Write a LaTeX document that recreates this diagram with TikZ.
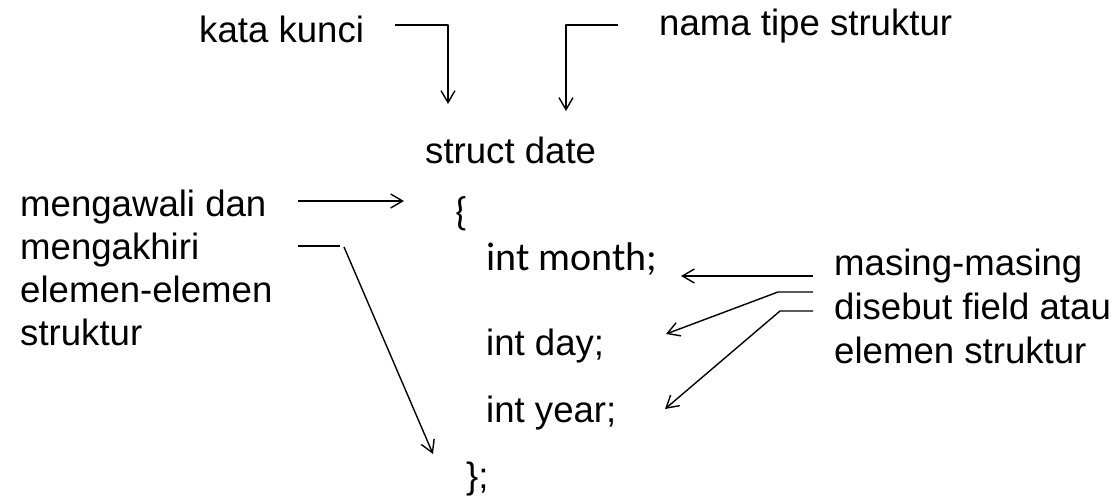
\documentclass[tikz,border=0pt]{standalone}
\usepackage{fontspec}
\setmainfont{Liberation Sans}
\newfontfamily\calfont{Carlito}
\usetikzlibrary{arrows.meta}
\begin{document}
\begin{tikzpicture}[x=1pt,y=-1pt,
  lbl/.style={anchor=base west,inner sep=0pt,font=\fontsize{36.6}{43}\selectfont},
  cal/.style={anchor=base west,inner sep=0pt,font=\calfont\fontsize{40}{48}\selectfont},
  conn/.style={line width=1.4pt,line join=round},
  tip/.style={conn,-{Straight Barb[length=12pt,width=14pt,line width=1.4pt]}}]
\useasboundingbox (0,0) rectangle (1118,496);

% labels
\node[lbl] (kk) at (199,42) {kata kunci};
\node[lbl] (ntype) at (659,35) {nama tipe struktur};
\node[lbl] (sd) at (425,163) {struct date};
\node[cal] (ob) at (455,225) {\{};
\node[cal] (im) at (486,270) {int month;};
\node[lbl] (id) at (486,355) {int day;};
\node[lbl] (iy) at (486,422) {int year;};
\node[lbl] (cb) at (466,488) {\};};

\node[lbl] (l1) at (20,216) {mengawali dan};
\node[lbl] (l2) at (20,259) {mengakhiri};
\node[lbl] (l3) at (20,302) {elemen-elemen};
\node[lbl] (l4) at (20,345) {struktur};

\node[lbl] (r1) at (834,275) {masing-masing};
\node[lbl] (r2) at (834,319) {disebut field atau};
\node[lbl] (r3) at (834,363) {elemen struktur};

% connector ends
\coordinate (a1s) at (395,25);  \coordinate (a1c) at (448,25);  \coordinate (a1t) at (448,104);
\coordinate (a2s) at (618,25);  \coordinate (a2c) at (566,25);  \coordinate (a2t) at (566,111);
\coordinate (a3s) at (298,201); \coordinate (a3t) at (404,201);
\coordinate (a4s) at (298,246); \coordinate (a4c) at (340,246);
\coordinate (a4d) at (344,247); \coordinate (a4t) at (433,454);
\coordinate (a5s) at (813,276); \coordinate (a5t) at (681,276);
\coordinate (a6s) at (813,292); \coordinate (a6c) at (778,292); \coordinate (a6t) at (666,334);
\coordinate (a7s) at (813,311); \coordinate (a7c) at (780,311); \coordinate (a7t) at (665,409);

% connectors
\draw[tip] (a1s) -- (a1c) -- (a1t);
\draw[tip] (a2s) -- (a2c) -- (a2t);
\draw[tip] (a3s) -- (a3t);
\draw[conn] (a4s) -- (a4c);
\draw[tip] (a4d) -- (a4t);
\draw[tip] (a5s) -- (a5t);
\draw[tip] (a6s) -- (a6c) -- (a6t);
\draw[tip] (a7s) -- (a7c) -- (a7t);
\end{tikzpicture}
\end{document}
